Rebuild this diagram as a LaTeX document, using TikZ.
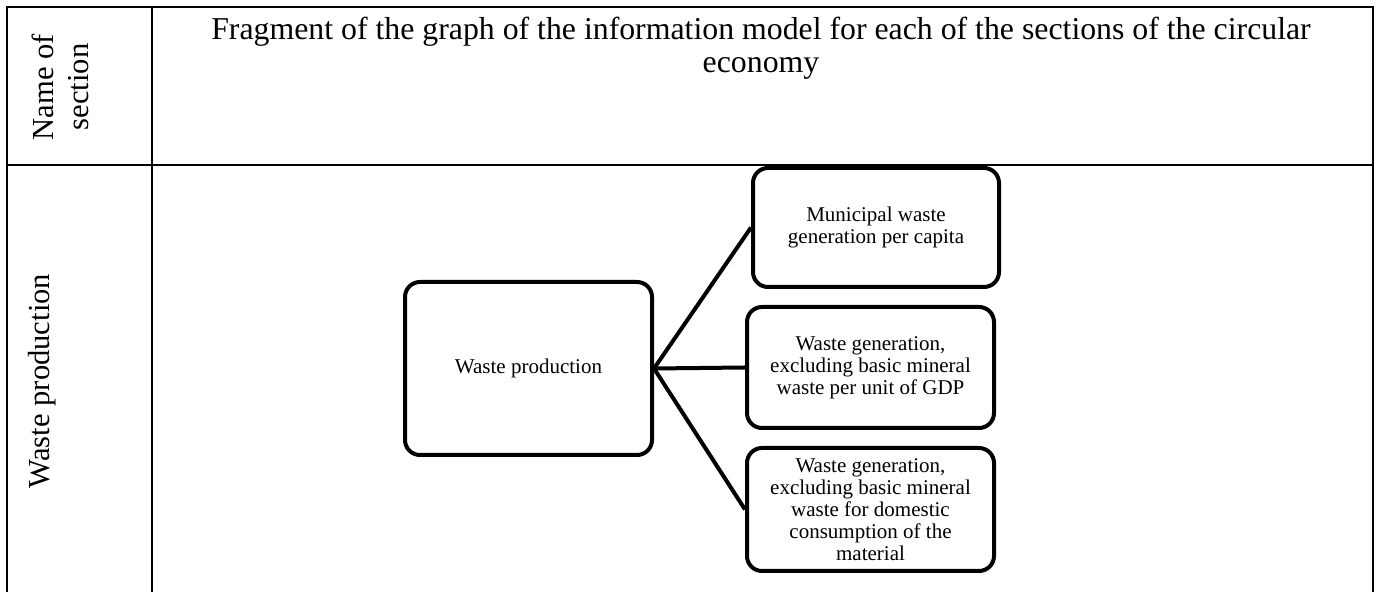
\documentclass[tikz,border=0pt]{standalone}
\usepackage{fontspec}
\setmainfont{Liberation Serif}
\begin{document}
\begin{tikzpicture}
  [
  x=0.5pt, y=-0.5pt, line width=1.3pt, draw=black,
  infobox/.style={rectangle, rounded corners=7.5pt, line width=2pt, draw=black,
    align=center, inner sep=0pt, font=\fontsize{10.5}{11}\selectfont},
  headtext/.style={align=center, inner sep=0pt, font=\fontsize{15.3}{17.5}\selectfont},
  link/.style={line width=2pt}
  ]

\useasboundingbox (0,0) rectangle (1378,592);

\coordinate (tl) at (7,7);
\coordinate (tr) at (1373,7);
\coordinate (bl) at (7,592);
\coordinate (br) at (1373,592);
\coordinate (ct) at (152,7);
\coordinate (cb) at (152,592);
\coordinate (hl) at (7,165);
\coordinate (hr) at (1373,165);

\draw (bl) -- (tl) -- (tr) -- (br);
\draw (ct) -- (cb);
\draw (hl) -- (hr);

\node[headtext, anchor=north, font=\fontsize{15.9}{16.5}\selectfont] (title) at (761,16)
  {Fragment of the graph of the information model for each of the sections of the circular\\economy};
\node[headtext, rotate=90] (namesec) at (60,87) {Name of\\section};
\node[headtext, rotate=90] (secname) at (42,381) {Waste production};

\node[infobox, minimum width=123.5pt, minimum height=86.5pt] (wp) at (528.5,368.5)
  {Waste production};
\node[infobox, minimum width=123pt, minimum height=59.5pt] (mun) at (876,227.5)
  {Municipal waste\\generation per capita};
\node[infobox, minimum width=123.5pt, minimum height=60.5pt] (gdp) at (870.5,367.5)
  {Waste generation,\\excluding basic mineral\\waste per unit of GDP};
\node[infobox, minimum width=123.5pt, minimum height=61.5pt] (dmc) at (870.5,509.5)
  {Waste generation,\\excluding basic mineral\\waste for domestic\\consumption of the\\material};

\foreach \b in {mun,gdp,dmc} {
  \draw[link] (wp.east) -- (\b.west);
}

\end{tikzpicture}
\end{document}
